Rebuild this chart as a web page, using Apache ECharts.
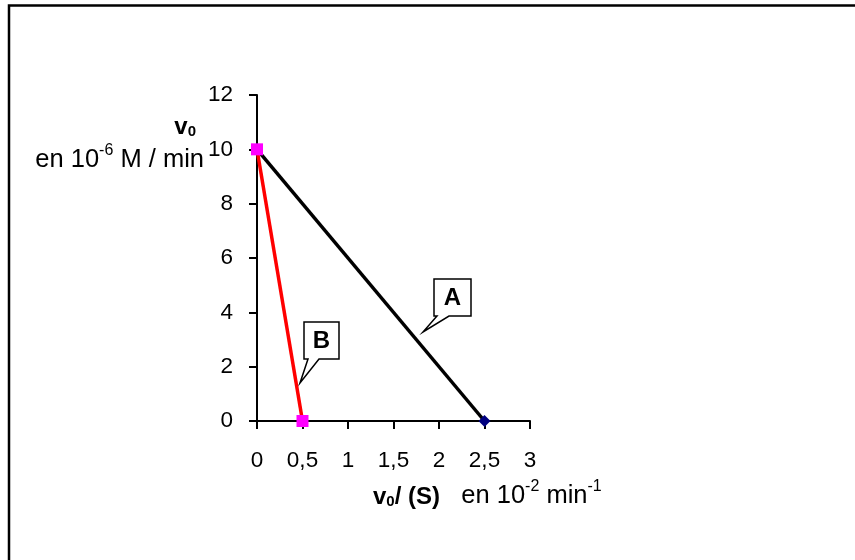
<!DOCTYPE html>
<html>
<head>
<meta charset="utf-8">
<script src="https://cdn.jsdelivr.net/npm/echarts@6/dist/echarts.min.js"></script>
<style>
  html, body { margin: 0; padding: 0; background: #fff; }
  #chart { width: 855px; height: 560px; }
</style>
</head>
<body>
<div id="chart"></div>
<script>
// courbe A : v0 en fonction de v0/(S)
const seriesA = [[0, 10], [2.5, 0]]
// courbe B
const seriesB = [[0, 10], [0.5, 0]]
const xTicks = { min: 0, max: 3, interval: 0.5 }
const yTicks = { min: 0, max: 12, interval: 2 }
const calloutA = 'A'
const calloutB = 'B'

const FONT = '"Liberation Sans", Arial, sans-serif'

const chart = echarts.init(document.getElementById('chart'), null, { renderer: 'canvas' })

chart.setOption({
  animation: false,
  backgroundColor: '#fff',
  grid: { left: 257, top: 95, right: 325, bottom: 139 },
  xAxis: {
    type: 'value',
    min: xTicks.min,
    max: xTicks.max,
    interval: xTicks.interval,
    axisLine: { onZero: false, lineStyle: { color: '#000', width: 2 } },
    axisTick: { show: true, length: 8, lineStyle: { color: '#000', width: 2 } },
    axisLabel: {
      color: '#000', fontSize: 22.5, fontFamily: FONT, margin: 28,
      formatter: v => String(v).replace('.', ',')
    },
    splitLine: { show: false }
  },
  yAxis: {
    type: 'value',
    min: yTicks.min,
    max: yTicks.max,
    interval: yTicks.interval,
    axisLine: { show: true, onZero: false, lineStyle: { color: '#000', width: 2 } },
    axisTick: { show: true, length: 8, lineStyle: { color: '#000', width: 2 } },
    axisLabel: { color: '#000', fontSize: 22.5, fontFamily: FONT, margin: 24 },
    splitLine: { show: false }
  },
  series: [
    {
      name: 'A',
      type: 'line',
      data: seriesA,
      symbol: 'diamond',
      symbolSize: 12,
      itemStyle: { color: '#000080' },
      lineStyle: { color: '#000', width: 3.5 }
    },
    {
      name: 'B',
      type: 'line',
      data: seriesB,
      symbol: 'rect',
      symbolSize: 12,
      itemStyle: { color: '#ff00ff' },
      lineStyle: { color: '#ff0000', width: 3.5 }
    }
  ],
  graphic: [
    // cadre
    {
      type: 'rect', silent: true,
      shape: { x: 9, y: 5.5, width: 900, height: 600 },
      style: { fill: 'none', stroke: '#000', lineWidth: 2.5 }
    },
    // titre axe y
    {
      type: 'text', x: 196, y: 127,
      style: {
        text: '{b|v}{bs|0}', align: 'right', verticalAlign: 'middle',
        rich: {
          b: { fontSize: 24, fontWeight: 'bold', fontFamily: FONT, lineHeight: 24, verticalAlign: 'top' },
          bs: { fontSize: 15, fontWeight: 'bold', fontFamily: FONT, lineHeight: 16, verticalAlign: 'bottom' }
        }
      }
    },
    {
      type: 'text', x: 204, y: 158,
      style: {
        text: '{n|en 10}{s|-6}{n| M / min}', align: 'right', verticalAlign: 'middle',
        rich: {
          n: { fontSize: 25.5, fontFamily: FONT, lineHeight: 30, verticalAlign: 'bottom' },
          s: { fontSize: 16, fontFamily: FONT, lineHeight: 16, verticalAlign: 'top' }
        }
      }
    },
    // titre axe x
    {
      type: 'text', x: 373, y: 494,
      style: {
        text: '{b|v}{bs|0}{b|/ (S)}{n|   en 10}{s|-2}{n| min}{s|-1}', verticalAlign: 'middle',
        rich: {
          b: { fontSize: 24, fontWeight: 'bold', fontFamily: FONT, lineHeight: 30, verticalAlign: 'bottom' },
          bs: { fontSize: 15, fontWeight: 'bold', fontFamily: FONT, lineHeight: 16, verticalAlign: 'bottom' },
          n: { fontSize: 25.5, fontFamily: FONT, lineHeight: 30, verticalAlign: 'bottom' },
          s: { fontSize: 16, fontFamily: FONT, lineHeight: 16, verticalAlign: 'top' }
        }
      }
    },
    // bulle A
    {
      type: 'polygon', silent: true,
      shape: { points: [[434, 279], [471, 279], [471, 316], [449, 316], [423, 332], [437, 316], [434, 316]] },
      style: { fill: '#fff', stroke: '#000', lineWidth: 1.5 }
    },
    {
      type: 'text', x: 452.5, y: 298,
      style: { text: calloutA, align: 'center', verticalAlign: 'middle', fontSize: 24, fontWeight: 'bold', fontFamily: FONT, fill: '#000' }
    },
    // bulle B
    {
      type: 'polygon', silent: true,
      shape: { points: [[304, 322], [339, 322], [339, 359], [319, 359], [300, 383], [308, 359], [304, 359]] },
      style: { fill: '#fff', stroke: '#000', lineWidth: 1.5 }
    },
    {
      type: 'text', x: 321.5, y: 341,
      style: { text: calloutB, align: 'center', verticalAlign: 'middle', fontSize: 24, fontWeight: 'bold', fontFamily: FONT, fill: '#000' }
    }
  ]
})
</script>
</body>
</html>
